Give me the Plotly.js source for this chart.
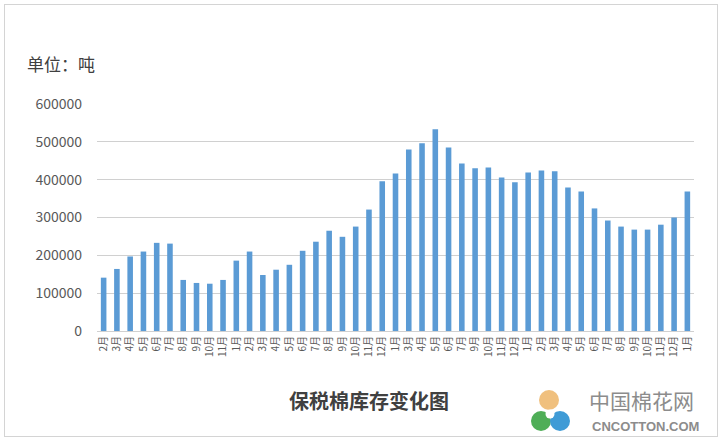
<!DOCTYPE html>
<html>
<head>
<meta charset="utf-8">
<script src="https://cdn.plot.ly/plotly-3.0.1.min.js"></script>
<style>
html,body{margin:0;padding:0;background:#fff;}
#frame{position:absolute;left:4px;top:4px;width:712px;height:431px;border:1px solid #d4d4d4;}
#chart{position:absolute;left:0;top:0;width:727px;height:440px;}
</style>
</head>
<body>
<div id="frame"></div>
<div id="chart"></div>
<script>
const monthLabels = [
  "2月","3月","4月","5月","6月","7月","8月","9月","10月","11月",
  "1月","2月","3月","4月","5月","6月","7月","8月","9月","10月","11月","12月",
  "1月","3月","4月","5月","6月","7月","9月","10月","11月","12月",
  "1月","2月","3月","4月","5月","6月","7月","8月","9月","10月","11月","12月",
  "1月"
];
const stockTons = [
  141000,164000,197000,210000,233000,231000,135000,127000,125000,135000,
  186000,210000,148000,162000,175000,212000,236000,265000,249000,276000,321000,396000,
  416000,480000,496000,533000,485000,443000,430000,432000,406000,393000,
  419000,424000,422000,379000,369000,324000,292000,276000,268000,268000,281000,300000,
  369000
];
const yTicks = [0,100000,200000,300000,400000,500000,600000];
const unitLabel = "单位：吨";
const chartTitle = "保税棉库存变化图";

const idx = monthLabels.map((_, i) => i);
const font = "Noto Sans CJK SC, Noto Sans, sans-serif";

const trace = {
  type: "bar",
  x: idx,
  y: stockTons,
  marker: {color: "#5B9BD5"},
  hoverinfo: "none"
};

const layout = {
  width: 727, height: 440,
  margin: {l: 97, r: 33, t: 104, b: 109},
  paper_bgcolor: "rgba(0,0,0,0)",
  plot_bgcolor: "rgba(0,0,0,0)",
  bargap: 0.58,
  showlegend: false,
  xaxis: {
    range: [-0.5, idx.length - 0.5],
    tickvals: idx,
    ticktext: monthLabels,
    tickangle: -90,
    tickfont: {family: font, size: 10, color: "#595959"},
    showgrid: false,
    zeroline: false,
    showline: true,
    linecolor: "#d0d0d0",
    linewidth: 1,
    ticks: "",
    fixedrange: true
  },
  yaxis: {
    range: [0, 600000],
    tickvals: yTicks,
    ticktext: yTicks.map(v => String(v)),
    tickfont: {family: font, size: 14, color: "#595959"},
    gridcolor: "#d0d0d0",
    gridwidth: 1,
    zeroline: false,
    showline: false,
    ticks: "",
    ticklabelstandoff: 14,
    fixedrange: true
  },
  annotations: [
    {text: unitLabel, xref: "paper", yref: "paper", x: -0.12, y: 1.18,
     xanchor: "left", yanchor: "middle", showarrow: false,
     font: {family: font, size: 17, color: "#404040"}},
    {text: "<b>" + chartTitle + "</b>", xref: "paper", yref: "paper", x: 0.455, y: -0.305,
     xanchor: "center", yanchor: "middle", showarrow: false,
     font: {family: font, size: 20, color: "#404040"}},
    {text: "中国棉花网", xref: "paper", yref: "paper", x: 0.822, y: -0.303,
     xanchor: "left", yanchor: "middle", showarrow: false, borderpad: 0,
     font: {family: font, size: 21, color: "#8c8c8c"}},
    {text: "<b>CNCOTTON.COM</b>", xref: "paper", yref: "paper", x: 0.827, y: -0.421,
     xanchor: "left", yanchor: "middle", showarrow: false, borderpad: 0,
     font: {family: "Liberation Sans, Arial, sans-serif", size: 13, color: "#8c8c8c"}}
  ],
  shapes: []
};

Plotly.newPlot("chart", [trace], layout, {staticPlot: true, displayModeBar: false}).then(gd => {
  const W = 727 - 97 - 33, H = 440 - 104 - 109;
  const px = (x) => (x - 97) / W;
  const py = (y) => (440 - 109 - y) / H;
  const disc = (cx, cy, r, color) => ({
    type: "circle", xref: "paper", yref: "paper",
    x0: px(cx - r), x1: px(cx + r), y0: py(cy + r), y1: py(cy - r),
    line: {width: 0}, fillcolor: color
  });
  Plotly.relayout(gd, {shapes: [
    disc(549, 400, 10, "#F0C07E"),
    disc(541, 421, 10, "#4FAE57"),
    disc(560, 421, 10, "#3F9BD6"),
    disc(550, 414, 4.5, "#ffffff")
  ]});
});
</script>
</body>
</html>
